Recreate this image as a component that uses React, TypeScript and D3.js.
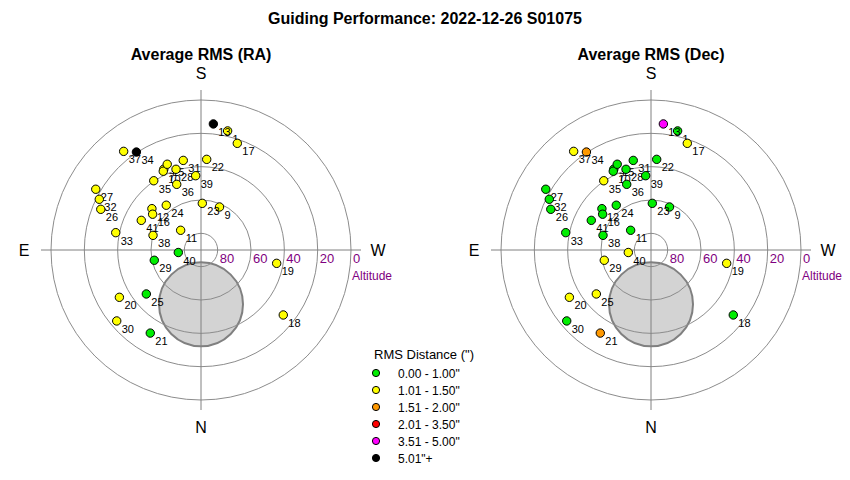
import React from 'react';
import * as d3 from 'd3';

// point ids, in draw order
const pointIds = [1, 7, 9, 10, 11, 12, 13, 15, 16, 17, 18, 19, 20, 21, 22, 23, 24, 25, 26, 27, 28, 29, 30, 31, 32, 33, 34, 35, 36, 37, 38, 39, 40, 41];
// azimuth in degrees (0 = N, 90 = E, 180 = S, 270 = W)
const azimuth = [192.6, 155.3, 203.3, 154.4, 134.1, 130.1, 185.6, 158.5, 126.5, 198.8, 308.3, 280.0, 59.9, 31.4, 183.6, 181.6, 142.2, 51.2, 112.1, 120.0, 162.8, 77.6, 49.9, 168.8, 116.5, 101.5, 146.6, 145.7, 159.7, 141.9, 107.0, 175.9, 83.7, 116.4];
const altitude = [16.8, 36.6, 61.9, 37.6, 73.0, 51.5, 14.0, 34.7, 53.9, 22.4, 27.1, 43.9, 33.4, 31.6, 35.5, 62.0, 56.0, 47.9, 25.1, 17.1, 39.3, 61.3, 23.9, 35.2, 21.8, 37.8, 19.6, 39.7, 48.0, 14.8, 59.9, 45.3, 76.3, 50.0];
// RMS bin index (see binLabels)
const raBin = [1, 1, 1, 1, 1, 1, 5, 1, 1, 1, 1, 1, 1, 0, 1, 1, 1, 0, 1, 1, 1, 0, 1, 1, 1, 1, 5, 1, 1, 1, 1, 1, 0, 1];
const decBin = [0, 0, 0, 0, 0, 0, 4, 0, 0, 1, 0, 1, 1, 2, 0, 0, 0, 1, 0, 0, 0, 1, 0, 0, 0, 0, 2, 1, 0, 1, 0, 0, 1, 0];

const binLabels = ['0.00 - 1.00"', '1.01 - 1.50"', '1.51 - 2.00"', '2.01 - 3.50"', '3.51 - 5.00"', '5.01"+'];
const binColors = ['#00ee00', '#ffff00', '#ff9900', '#ff0000', '#ff00ff', '#000000'];

const altRings = [80, 60, 40, 20, 0];

// pier / keep-out zone, centred due north
const keepoutAz = 0;
const keepoutAlt = 57.4;
const keepoutRadiusDeg = 25.2;

const FONT = 'Arial, "Liberation Sans", sans-serif';

const radius = 150;
const r = d3.scaleLinear().domain([90, 0]).range([0, radius]);

function project(az: number, alt: number): [number, number] {
  const rad = (az * Math.PI) / 180;
  const d = r(alt);
  return [-d * Math.sin(rad), d * Math.cos(rad)];
}

interface PolarProps {
  cx: number;
  cy: number;
  title: string;
  bins: number[];
}

const PolarPlot: React.FC<PolarProps> = ({ cx, cy, title, bins }) => {
  const [kx, ky] = project(keepoutAz, keepoutAlt);
  const kr = r(90 - keepoutRadiusDeg);
  const axisLen = 160;
  const lblR = 177;
  return (
    <g transform={`translate(${cx},${cy})`}>
      <text x={0} y={-190} textAnchor="middle" fontSize={16} fontWeight="bold" fontFamily={FONT}>{title}</text>

      {/* keep-out disc */}
      <circle cx={kx} cy={ky} r={kr} fill="#d3d3d3" stroke="#808080" strokeWidth={2} />

      {/* grid */}
      {altRings.map(a => (
        <circle key={a} r={r(a)} fill="none" stroke="#8c8c8c" strokeWidth={1} />
      ))}
      <line x1={-axisLen} x2={axisLen} y1={0} y2={0} stroke="#808080" />
      <line x1={0} x2={0} y1={-axisLen} y2={axisLen} stroke="#808080" />

      {altRings.map(a => (
        <text key={'l' + a} x={r(a) + 2} y={13} fontSize={13} fill="#800080" fontFamily={FONT}>{a}</text>
      ))}
      <text x={r(0) + 1} y={30} fontSize={12} fill="#800080" fontFamily={FONT}>Altitude</text>

      <text x={0} y={-lblR + 6} textAnchor="middle" fontSize={16} fontFamily={FONT}>S</text>
      <text x={0} y={lblR + 6} textAnchor="middle" fontSize={16} fontFamily={FONT}>N</text>
      <text x={-lblR} y={6} textAnchor="middle" fontSize={16} fontFamily={FONT}>E</text>
      <text x={lblR} y={6} textAnchor="middle" fontSize={16} fontFamily={FONT}>W</text>

      {pointIds.map((id, i) => {
        const [x, y] = project(azimuth[i], altitude[i]);
        return (
          <g key={id}>
            <circle cx={x} cy={y} r={4.2} fill={binColors[bins[i]]} stroke="#000" strokeWidth={1} />
            <text x={x + 5} y={y + 12} fontSize={11} fontFamily={FONT}>{id}</text>
          </g>
        );
      })}
    </g>
  );
};

const App: React.FC = () => {
  const legendX = 376;
  const legendY = 373;
  const legendStep = 17;
  return (
    <svg width={850} height={480} style={{ position: 'absolute', left: 0, top: 0, background: '#fff' }}>
      <rect width={850} height={480} fill="#fff" />
      <text x={425} y={24} textAnchor="middle" fontSize={16} fontWeight="bold" fontFamily={FONT}>
        Guiding Performance: 2022-12-26 S01075
      </text>

      <PolarPlot cx={201} cy={250} title="Average RMS (RA)" bins={raBin} />
      <PolarPlot cx={651} cy={250} title="Average RMS (Dec)" bins={decBin} />

      <g fontFamily={FONT}>
        <text x={374} y={legendY - 14} fontSize={13}>RMS Distance (")</text>
        {binLabels.map((lab, i) => (
          <g key={lab}>
            <circle cx={legendX} cy={legendY + i * legendStep} r={3.6} fill={binColors[i]} stroke="#000" strokeWidth={1} />
            <text x={legendX + 22} y={legendY + i * legendStep + 4.5} fontSize={12}>{lab}</text>
          </g>
        ))}
      </g>
    </svg>
  );
};

export default App;
